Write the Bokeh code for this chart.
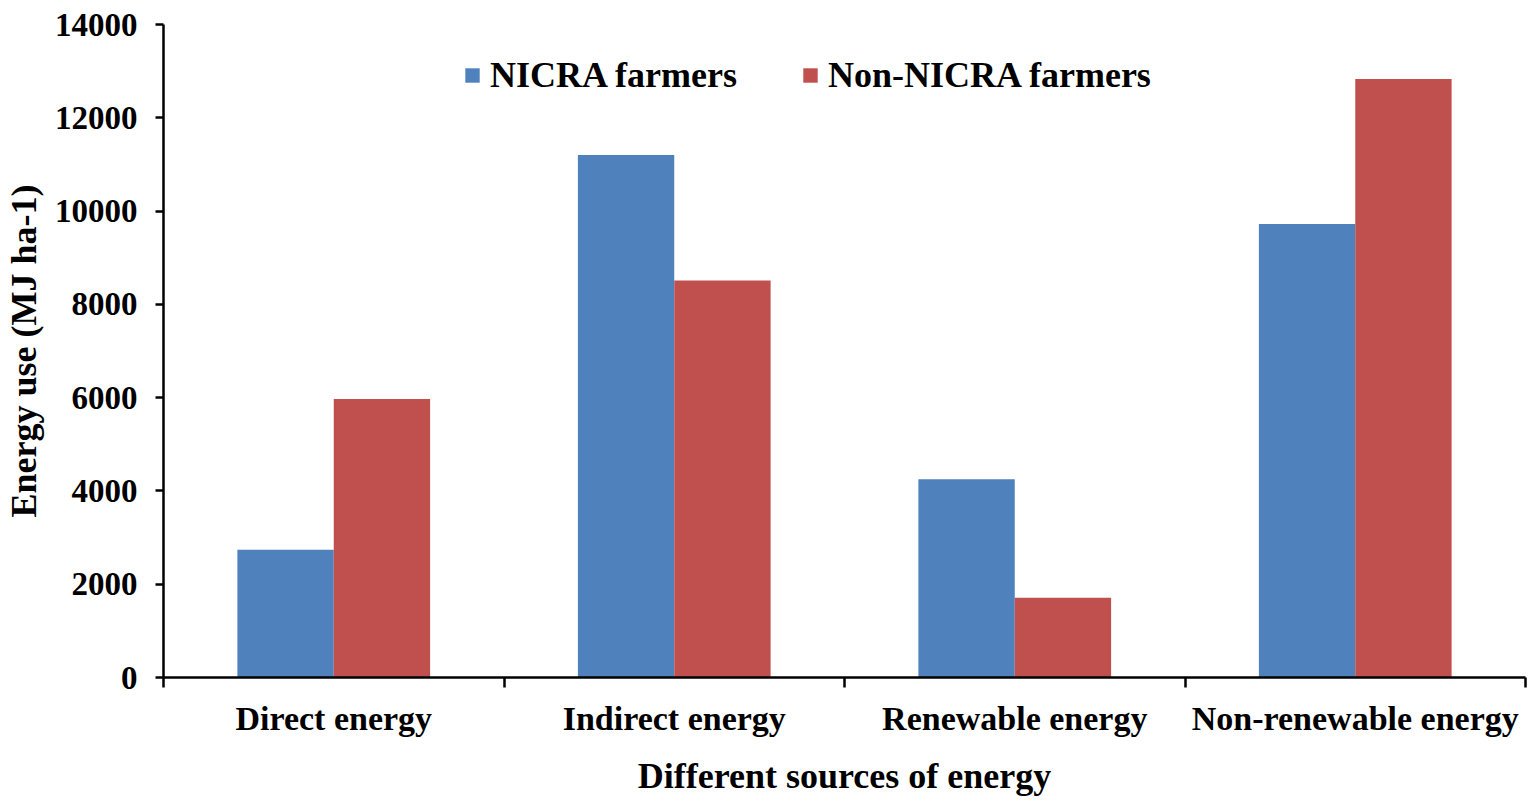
from bokeh.plotting import figure
from bokeh.models import (ColumnDataSource, Range1d, FixedTicker, Legend, LegendItem)
from bokeh.transform import dodge
from bokeh.embed import file_html
from bokeh.resources import INLINE

categories = ["Direct energy", "Indirect energy", "Renewable energy", "Non-renewable energy"]
nicra = [2740, 11200, 4250, 9725]
non_nicra = [5970, 8510, 1710, 12830]
series_names = ["NICRA farmers", "Non-NICRA farmers"]
y_ticks = [0, 2000, 4000, 6000, 8000, 10000, 12000, 14000]

BLUE = "#4F81BD"
RED = "#C0504D"
FONT = "Liberation Serif"

centers = [i + 0.5 for i in range(len(categories))]
src = ColumnDataSource(dict(x=centers, nicra=nicra, non=non_nicra, cat=categories))

p = figure(width=1528, height=800, output_backend="svg", toolbar_location=None,
           x_range=Range1d(0, len(categories)), y_range=Range1d(0, 14000),
           min_border_left=163, min_border_right=3, min_border_top=24, min_border_bottom=123)
p.outline_line_color = None
p.grid.grid_line_color = None
p.background_fill_color = "white"

bw = 0.283
r1 = p.vbar(x=dodge("x", -bw / 2), top="nicra", width=bw, source=src,
            fill_color=BLUE, line_color=None)
r2 = p.vbar(x=dodge("x", bw / 2), top="non", width=bw, source=src,
            fill_color=RED, line_color=None)

# x axis: boundary ticks as minor ticks, labels at category centers
xa = p.xaxis[0]
xa.ticker = FixedTicker(ticks=centers, minor_ticks=list(range(len(categories) + 1)))
xa.major_label_overrides = {c: cat for c, cat in zip(centers, categories)}
xa.major_tick_line_color = None
xa.minor_tick_line_color = "black"
xa.minor_tick_line_width = 2.5
xa.minor_tick_out = 10
xa.minor_tick_in = 0
xa.axis_line_width = 2.5
xa.axis_line_color = "black"
xa.major_label_text_font = FONT
xa.major_label_text_font_style = "bold"
xa.major_label_text_font_size = "34px"
xa.major_label_text_color = "black"
xa.major_label_standoff = 12
xa.axis_label = "Different sources of energy"
xa.axis_label_text_font = FONT
xa.axis_label_text_font_style = "bold"
xa.axis_label_text_font_size = "36px"
xa.axis_label_text_color = "black"
xa.axis_label_standoff = 16

ya = p.yaxis[0]
ya.ticker = FixedTicker(ticks=y_ticks)
ya.minor_tick_line_color = None
ya.major_tick_out = 8
ya.major_tick_in = 0
ya.major_tick_line_width = 2.5
ya.major_tick_line_color = "black"
ya.axis_line_width = 2.5
ya.axis_line_color = "black"
ya.major_label_text_font = FONT
ya.major_label_text_font_style = "bold"
ya.major_label_text_font_size = "33px"
ya.major_label_text_color = "black"
ya.major_label_standoff = 18
ya.axis_label = "Energy use (MJ ha-1)"
ya.axis_label_text_font = FONT
ya.axis_label_text_font_style = "bold"
ya.axis_label_text_font_size = "36px"
ya.axis_label_text_color = "black"
ya.axis_label_standoff = 8

legend = Legend(items=[LegendItem(label=series_names[0], renderers=[r1]),
                       LegendItem(label=series_names[1], renderers=[r2])],
                orientation="horizontal", location=(300, 581))
legend.border_line_color = None
legend.background_fill_alpha = 0
legend.margin = 0
legend.padding = 0
legend.spacing = 64
legend.glyph_width = 18
legend.glyph_height = 18
legend.label_standoff = 9
legend.label_text_font = FONT
legend.label_text_font_style = "bold"
legend.label_text_font_size = "36px"
legend.label_text_color = "black"
p.add_layout(legend)

open("out.html", "w").write(file_html(p, INLINE))
